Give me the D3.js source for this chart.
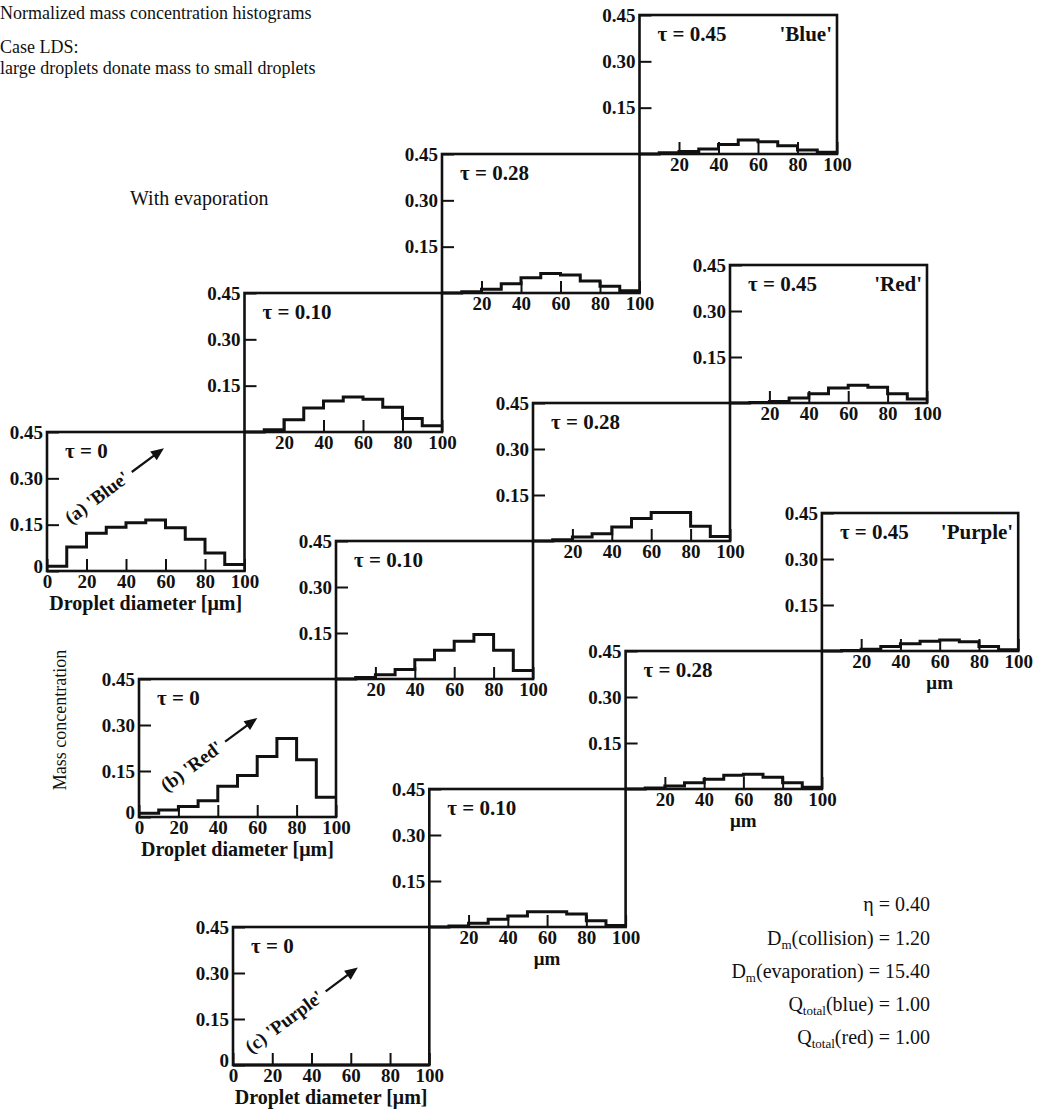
<!DOCTYPE html>
<html>
<head>
<meta charset="utf-8">
<script src="https://cdn.jsdelivr.net/npm/d3@7"></script>
<style>
  body { margin: 0; background: #fff; }
  text { font-family: "Liberation Serif", "Times New Roman", serif; fill: #111; }
</style>
</head>
<body>
<div id="vis"></div>
<script>
// bin left edges [µm], each bin 10 µm wide
const binStarts = [0, 10, 20, 30, 40, 50, 60, 70, 80, 90];
const tauLabels = ["0", "0.10", "0.28", "0.45"];
const caseNames = ["Blue", "Red", "Purple"];
const caseTags = ["(a)", "(b)", "(c)"];

const blue_0  = [0.015, 0.078, 0.122, 0.142, 0.156, 0.165, 0.140, 0.103, 0.058, 0.021];
const blue_10 = [0.000, 0.007, 0.040, 0.078, 0.100, 0.113, 0.106, 0.080, 0.044, 0.020];
const blue_28 = [0.000, 0.004, 0.012, 0.030, 0.049, 0.063, 0.058, 0.039, 0.022, 0.007];
const blue_45 = [0.000, 0.004, 0.008, 0.016, 0.031, 0.045, 0.040, 0.027, 0.013, 0.006];

const red_0  = [0.012, 0.023, 0.034, 0.053, 0.100, 0.135, 0.197, 0.256, 0.187, 0.064];
const red_10 = [0.000, 0.005, 0.014, 0.031, 0.063, 0.094, 0.123, 0.145, 0.094, 0.028];
const red_28 = [0.000, 0.004, 0.013, 0.024, 0.046, 0.073, 0.093, 0.093, 0.048, 0.015];
const red_45 = [0.000, 0.002, 0.005, 0.016, 0.030, 0.049, 0.058, 0.051, 0.030, 0.013];

const purple_0  = [0, 0, 0, 0, 0, 0, 0, 0, 0, 0];
const purple_10 = [0.000, 0.003, 0.012, 0.025, 0.036, 0.050, 0.050, 0.042, 0.020, 0.005];
const purple_28 = [0.000, 0.003, 0.010, 0.020, 0.032, 0.045, 0.048, 0.038, 0.020, 0.006];
const purple_45 = [0.000, 0.002, 0.006, 0.015, 0.024, 0.032, 0.036, 0.030, 0.015, 0.004];

const xTicks = [0, 20, 40, 60, 80, 100];
const yTicks = [0, 0.15, 0.30, 0.45];

// where the rotated "(a) 'Blue'" style tags start, in data units of the tau=0 panel
const tagAnchorX = [12.0, 14.0, 9.2];
const tagAnchorY = [0.150, 0.080, 0.036];

const series = [
  [blue_0, blue_10, blue_28, blue_45],
  [red_0, red_10, red_28, red_45],
  [purple_0, purple_10, purple_28, purple_45]
];

// layout of the three staircases
const ROWS = [
  {x0: 47,  top0: 432, dx: 197.5, dy: -139},
  {x0: 139, top0: 679, dx: 197,   dy: -138},
  {x0: 233, top0: 927, dx: 196.3, dy: -138}
];

const svg = d3.select("#vis")
  .append("svg")
    .attr("width", 1041)
    .attr("height", 1113);

ROWS.forEach((row, r) => {
  const W = row.dx;
  const H = -row.dy;
  const xScale = d3.scaleLinear().domain([0, 100]).range([0, W]);
  const yScale = d3.scaleLinear().domain([0, 0.45]).range([H, 0]);

  series[r].forEach((vals, p) => {
    const g = svg.append("g")
      .attr("transform", "translate(" + (row.x0 + p * row.dx) + "," + (row.top0 + p * row.dy) + ")");

    const first = p === 0;

    // axes with inward ticks
    const yAxis = d3.axisLeft(yScale)
      .tickValues(first ? yTicks : yTicks.slice(1))
      .tickSizeInner(-12).tickSizeOuter(0).tickPadding(4)
      .tickFormat(d => d === 0 ? "0" : d.toFixed(2));
    const ya = g.append("g").call(yAxis);

    const xAxis = d3.axisBottom(xScale)
      .tickValues(first ? xTicks : xTicks.slice(1))
      .tickSizeInner(-12).tickSizeOuter(0).tickPadding(3);
    const xa = g.append("g").attr("transform", "translate(0," + H + ")").call(xAxis);

    [ya, xa].forEach(a => {
      a.select(".domain").remove();
      a.selectAll("line").attr("stroke", "#111").attr("stroke-width", 2);
      a.selectAll("text")
        .attr("font-size", 19).attr("font-weight", "bold")
        .attr("font-family", "Liberation Serif, serif").attr("fill", "#111");
    });
    if (first) ya.selectAll("text").filter(d => d === 0).attr("dy", "0.1em");

    // histogram outline
    const pts = binStarts.map((b, i) => [b, vals[i]]);
    pts.push([100, vals[vals.length - 1]]);
    const line = d3.line()
      .x(d => xScale(d[0]))
      .y(d => yScale(d[1]))
      .curve(d3.curveStepAfter);
    g.append("path")
      .attr("d", line(pts))
      .attr("fill", "none")
      .attr("stroke", "#111")
      .attr("stroke-width", 3);

    // frame
    g.append("rect")
      .attr("width", W).attr("height", H)
      .attr("fill", "none")
      .attr("stroke", "#111")
      .attr("stroke-width", 2.6);

    g.append("text")
      .attr("x", 18).attr("y", 26)
      .attr("font-size", 21).attr("font-weight", "bold")
      .text("\u03c4 = " + tauLabels[p]);

    if (p === 3) {
      g.append("text")
        .attr("x", W - 5).attr("y", 26)
        .attr("text-anchor", "end")
        .attr("font-size", 21).attr("font-weight", "bold")
        .text("'" + caseNames[r] + "'");
    }

    if (first) {
      g.append("text")
        .attr("x", W / 2).attr("y", H + 39)
        .attr("text-anchor", "middle")
        .attr("font-size", 20).attr("font-weight", "bold")
        .text("Droplet diameter [\u03bcm]");

      const tag = g.append("g")
        .attr("transform", "translate(" + xScale(tagAnchorX[r]) + "," + yScale(tagAnchorY[r]) + ") rotate(-36.5)");
      const t = tag.append("text")
        .attr("font-size", 19).attr("font-weight", "bold")
        .text(caseTags[r] + " '" + caseNames[r] + "'");
      const L = t.node().getComputedTextLength();
      tag.append("line")
        .attr("x1", L + 6).attr("x2", L + 36)
        .attr("y1", -6).attr("y2", -6)
        .attr("stroke", "#111").attr("stroke-width", 2.2);
      tag.append("path")
        .attr("d", "M" + (L + 46) + ",-6 L" + (L + 33) + ",-11.5 L" + (L + 33) + ",-0.5 Z")
        .attr("fill", "#111");
    } else if (r === 2) {
      g.append("text")
        .attr("x", xScale(60)).attr("y", H + 38)
        .attr("text-anchor", "middle")
        .attr("font-size", 19).attr("font-weight", "bold")
        .text("\u03bcm");
    }
  });
});

// header notes
const notes = [
  {t: "Normalized mass concentration histograms", x: 0, y: 19, s: 18},
  {t: "Case LDS:", x: 0, y: 53, s: 18},
  {t: "large droplets donate mass to small droplets", x: 0, y: 74, s: 18},
  {t: "With evaporation", x: 130, y: 205, s: 20}
];
svg.selectAll(".note")
  .data(notes)
  .enter()
  .append("text")
    .attr("class", "note")
    .attr("x", d => d.x).attr("y", d => d.y)
    .attr("font-size", d => d.s)
    .text(d => d.t);

svg.append("text")
  .attr("transform", "translate(66,720) rotate(-90)")
  .attr("text-anchor", "middle")
  .attr("font-size", 18)
  .text("Mass concentration");

// parameter block, bottom right
const params = [
  {main: "\u03b7", sub: "", rest: " = 0.40"},
  {main: "D", sub: "m", rest: "(collision) = 1.20"},
  {main: "D", sub: "m", rest: "(evaporation) = 15.40"},
  {main: "Q", sub: "total", rest: "(blue) = 1.00"},
  {main: "Q", sub: "total", rest: "(red) = 1.00"}
];
const paramY = [911, 945, 978, 1011, 1044];
params.forEach((d, i) => {
  const t = svg.append("text")
    .attr("x", 930).attr("y", paramY[i])
    .attr("text-anchor", "end")
    .attr("font-size", 20);
  t.append("tspan").text(d.main);
  if (d.sub) t.append("tspan").attr("font-size", 13).attr("dy", 4).text(d.sub);
  t.append("tspan").attr("dy", d.sub ? -4 : 0).text(d.rest);
});
</script>
</body>
</html>
